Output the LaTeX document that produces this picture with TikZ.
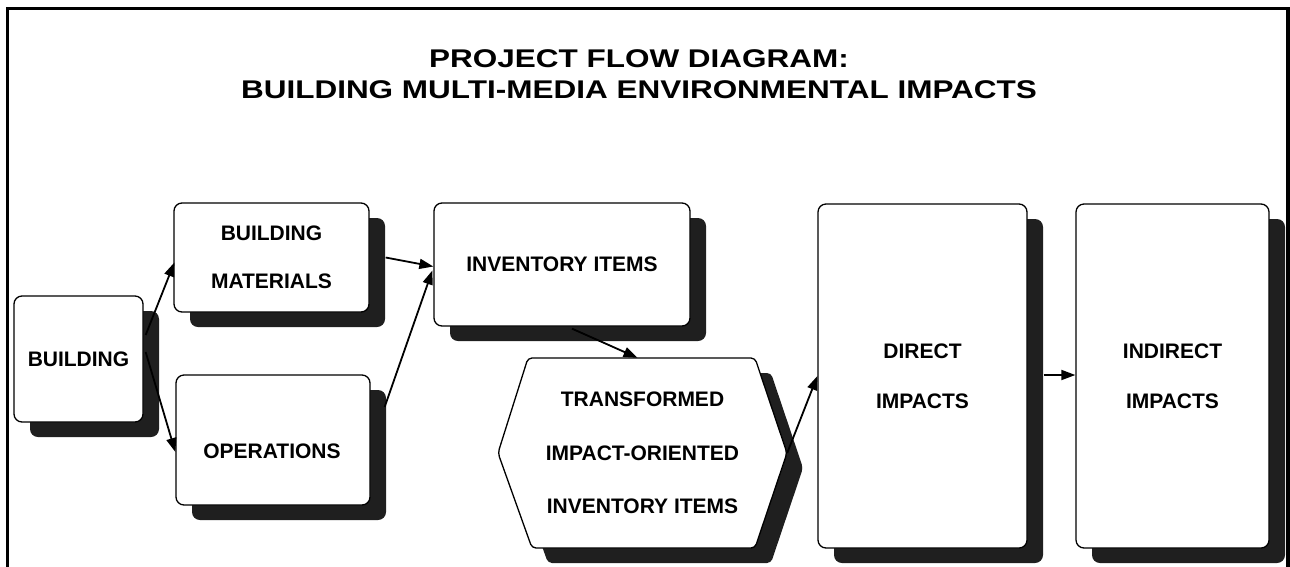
\documentclass[tikz,border=0pt]{standalone}
\usepackage{fontspec}
\setmainfont{Liberation Sans}
\newfontfamily\titlefont{Liberation Sans}[FakeStretch=1.23]
\usetikzlibrary{arrows.meta,calc,shadows}
\newcommand\boxfont[1]{\fontsize{21}{#1}\selectfont\bfseries}

\begin{document}
\begin{tikzpicture}[x=1pt,y=-1pt,
  card/.style={draw=black, line width=1.3pt, fill=white, rounded corners=8pt,
    inner sep=0pt, align=center,
    drop shadow={fill=black!88, opacity=1, shadow xshift=16pt, shadow yshift=-15pt}},
  lbl/.style={inner sep=0pt, align=center},
  ttl/.style={anchor=base, inner sep=0pt, font=\titlefont\bfseries\fontsize{25.6}{30}\selectfont},
  arr/.style={line width=1.8pt, -{Triangle[length=14pt,width=10pt]}},
  shade/.style={fill=black!88},
  hexline/.style={draw=black, line width=1.3pt, fill=white, rounded corners=4pt}]

\useasboundingbox (0,0) rectangle (1290,566);
\clip (0,0) rectangle (1290,566);

% outer frame, open at the foot of the page
\draw[line width=3.5pt] (7.5,8.5) rectangle (1288,620);

% title
\node[ttl] (title1) at (639,67) {PROJECT FLOW DIAGRAM:};
\node[ttl] (title2) at (639,98) {BUILDING MULTI-MEDIA ENVIRONMENTAL IMPACTS};

% rounded boxes with drop shadows
\node[card, minimum width=129pt, minimum height=126pt, font=\boxfont{24}]
  (bld) at (78.5,359) {BUILDING};
\node[card, minimum width=195pt, minimum height=109pt, font=\boxfont{48}]
  (bm) at (271.5,257.5) {BUILDING\\MATERIALS};
\node[card, minimum width=194pt, minimum height=130pt] (ops) at (273,440) {};
\node[lbl, font=\boxfont{24}] (ops-t) at (272,451) {OPERATIONS};
\node[card, minimum width=256pt, minimum height=123pt, font=\boxfont{24}]
  (inv) at (562,264.5) {INVENTORY ITEMS};
\node[card, minimum width=209pt, minimum height=344pt, font=\boxfont{50}]
  (dir) at (922.5,376) {DIRECT\\IMPACTS};
\node[card, minimum width=193pt, minimum height=344pt, font=\boxfont{50}]
  (ind) at (1172.5,376) {INDIRECT\\IMPACTS};

% hexagonal box: shadow, outline, then its text
\fill[shade, rounded corners=4pt, shift={(16,15)}]
  (528,358) -- (755,358) -- (787,453) -- (755,548) -- (532,548) -- (498,453) -- cycle;
\path[hexline]
  (528,358) -- (755,358) -- (787,453) -- (755,548) -- (532,548) -- (498,453) -- cycle;
\node[lbl, minimum width=289pt, minimum height=190pt, font=\boxfont{53.5}]
  (xf) at (642.5,453) {TRANSFORMED\\IMPACT-ORIENTED\\INVENTORY ITEMS};

% flow arrows
\draw[arr] ($(bld.east)+(2,-24)$) -- ($(bm.west)+(1,5)$);
\draw[arr] ($(bld.east)+(2,-7)$) -- ($(ops.west)+(0,12)$);
\draw[arr] ($(bm.east)+(16,0)$) -- ($(inv.west)+(0,2)$);
\draw[arr] ($(ops.east)+(14,-33)$) -- ($(inv.west)+(-1,6)$);
\draw[arr] ($(inv.south)+(10,2)$) -- ($(xf.north)+(-5,0)$);
\draw[arr] (xf.east) -- (dir.west);
\draw[arr] ($(dir.east)+(16,-1)$) -- ($(ind.west)+(0,-1)$);

\end{tikzpicture}
\end{document}
